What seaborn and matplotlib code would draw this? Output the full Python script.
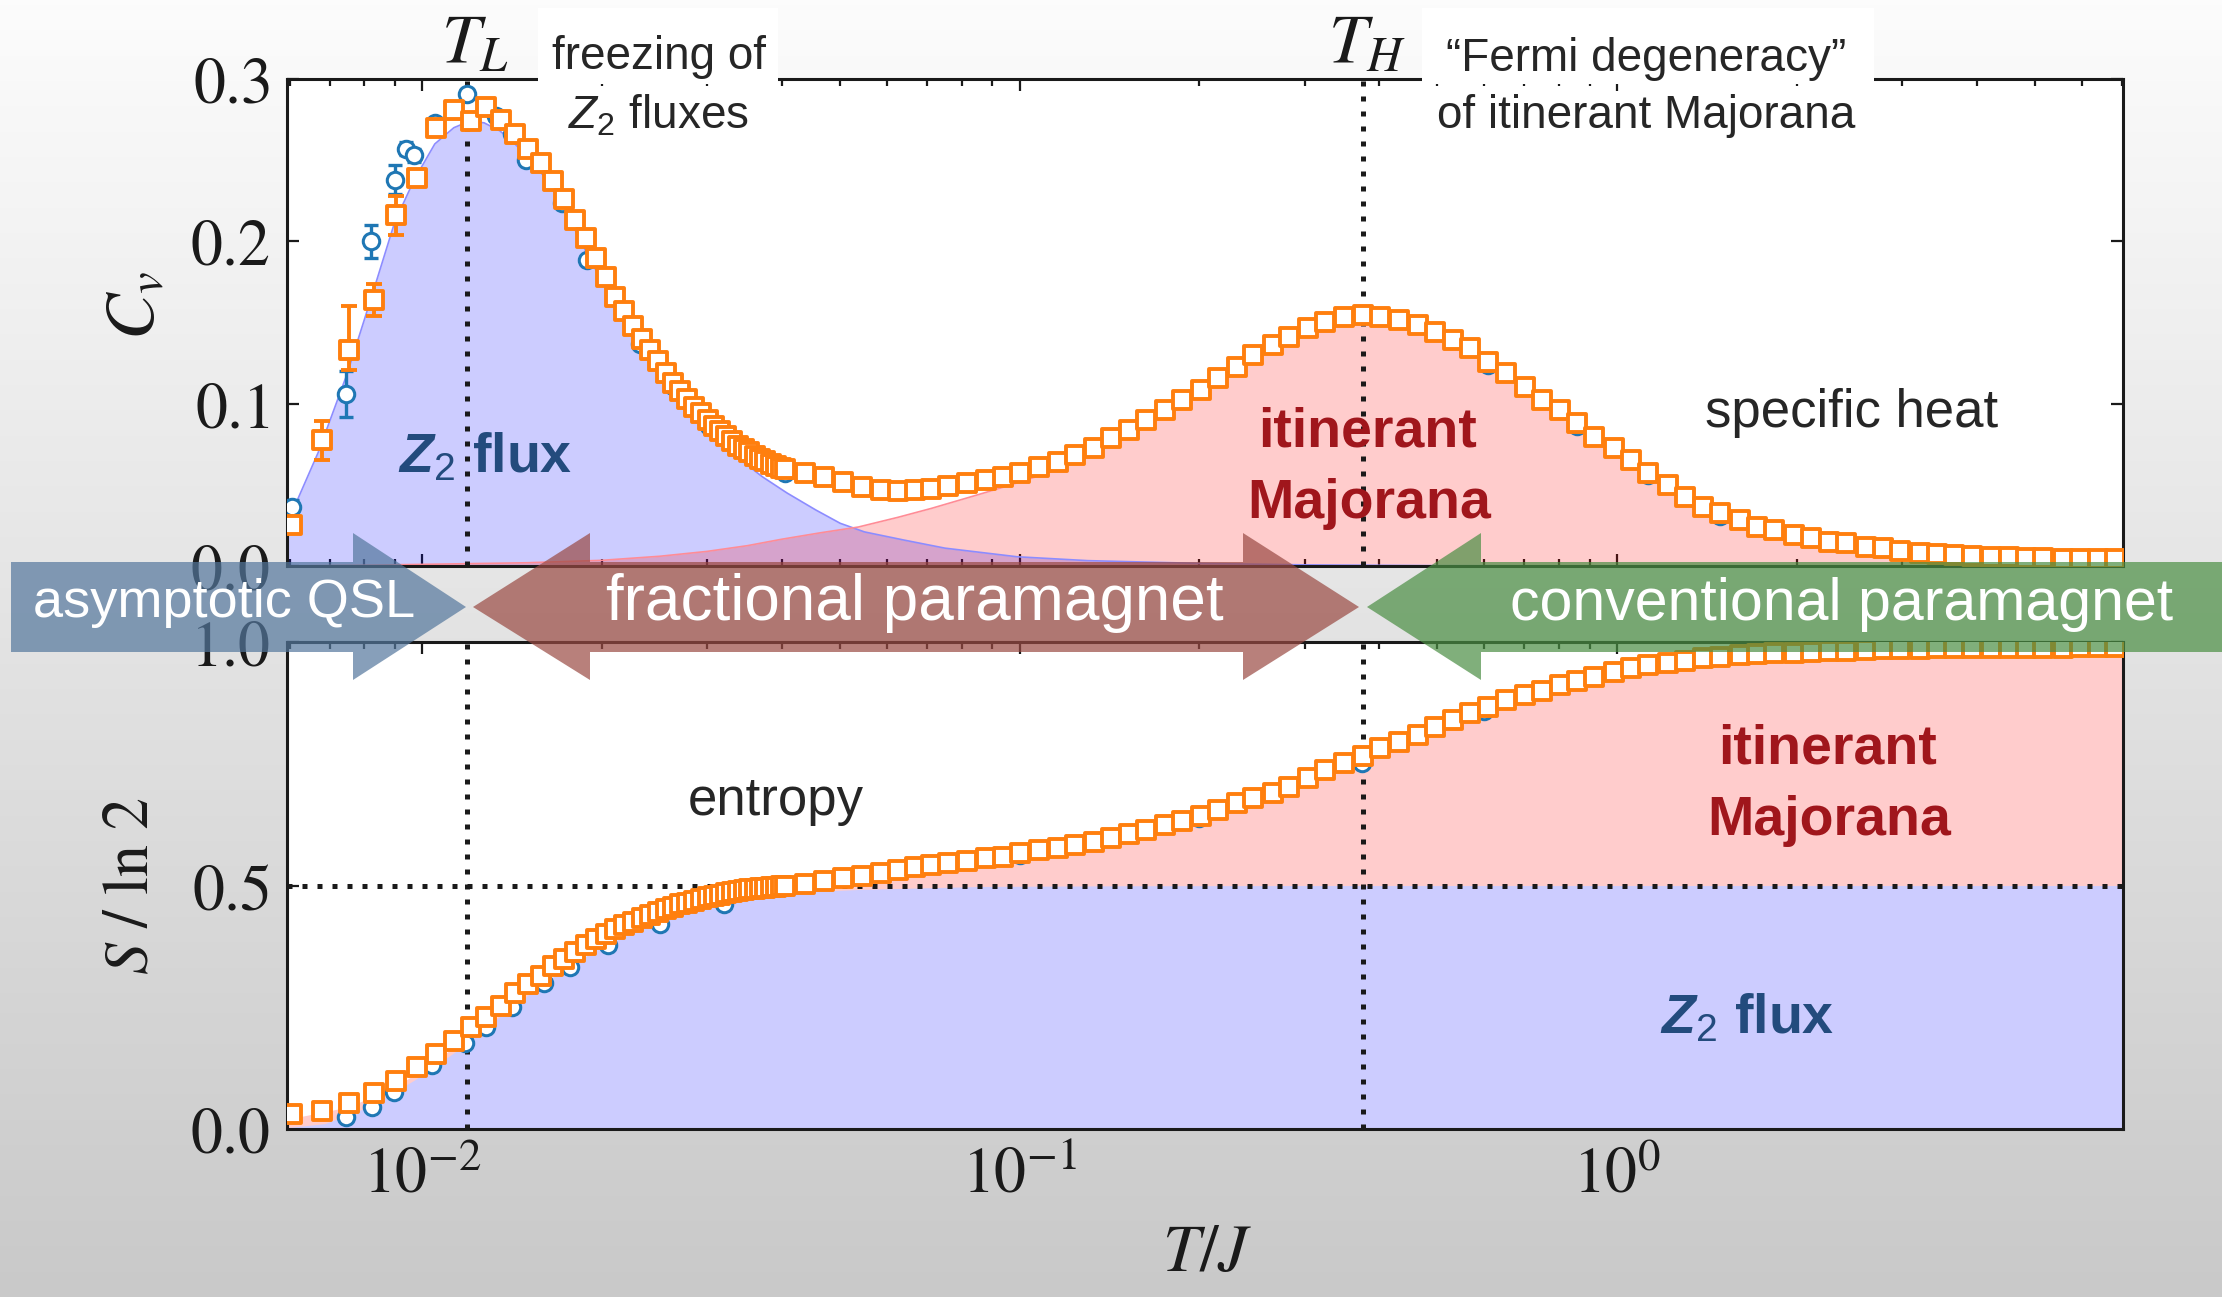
import numpy as np
import matplotlib
matplotlib.use("Agg")
import matplotlib.pyplot as plt
import seaborn as sns
from matplotlib.patches import Polygon, Rectangle
from matplotlib.colors import LinearSegmentedColormap
from matplotlib.ticker import FixedLocator, FuncFormatter, LogLocator, NullFormatter

# ---------------------------------------------------------------- data
# square markers: low-T grid (linear steps) and high-T grid (log steps)
T_low = [0.00605, 0.00680, 0.00755, 0.00830, 0.00905, 0.00980, 0.01055, 0.01130, 0.01205, 0.01280,
         0.01355, 0.01430, 0.01505, 0.01580, 0.01655, 0.01730, 0.01805, 0.01880, 0.01955, 0.02030,
         0.02105, 0.02180, 0.02255, 0.02330, 0.02405, 0.02480, 0.02555, 0.02630, 0.02705, 0.02780,
         0.02855, 0.02930, 0.03005, 0.03080, 0.03155, 0.03230, 0.03305, 0.03380, 0.03455, 0.03530,
         0.03605, 0.03680, 0.03755, 0.03830, 0.03905, 0.03980, 0.04055]
T_high = [0.0438, 0.0471, 0.0507, 0.0545, 0.0586, 0.0626, 0.0668, 0.0712, 0.0760, 0.0818,
          0.0880, 0.0939, 0.1002, 0.1077, 0.1159, 0.1237, 0.1330, 0.1420, 0.1527, 0.1630,
          0.1752, 0.1871, 0.2012, 0.2146, 0.2309, 0.2463, 0.2651, 0.2828, 0.3042, 0.3248,
          0.3492, 0.3757, 0.4009, 0.4311, 0.4637, 0.4950, 0.5324, 0.5683, 0.6087, 0.6509,
          0.7015, 0.7500, 0.8019, 0.8574, 0.9167, 0.9881, 1.056, 1.129, 1.218, 1.302,
          1.392, 1.488, 1.605, 1.716, 1.834, 1.978, 2.114, 2.261, 2.417, 2.606,
          2.786, 2.979, 3.211, 3.433, 3.670, 3.924, 4.229, 4.522, 4.834, 5.170,
          5.574, 5.959, 6.372, 6.811]

cv_low = [0.0253, 0.0776, 0.133, 0.164, 0.216, 0.239, 0.270, 0.281, 0.274, 0.283,
          0.275, 0.266, 0.257, 0.248, 0.237, 0.226, 0.213, 0.202, 0.190, 0.178,
          0.166, 0.157, 0.148, 0.140, 0.133, 0.126, 0.119, 0.113, 0.108, 0.103,
          0.098, 0.094, 0.090, 0.086, 0.083, 0.080, 0.077, 0.074, 0.072, 0.070,
          0.068, 0.066, 0.0645, 0.063, 0.0618, 0.0606, 0.0595]
cv_high = [0.0572, 0.0550, 0.0519, 0.0489, 0.0470, 0.0464, 0.0466, 0.0476, 0.0490, 0.0509,
           0.0530, 0.0550, 0.0571, 0.0612, 0.0643, 0.0684, 0.0725, 0.0786, 0.0838, 0.0899,
           0.0961, 0.1023, 0.1084, 0.1156, 0.1228, 0.1300, 0.1361, 0.1413, 0.1464, 0.1505,
           0.1536, 0.1546, 0.1536, 0.1515, 0.1485, 0.1443, 0.1392, 0.1345, 0.1259, 0.1187,
           0.1105, 0.1023, 0.0961, 0.0879, 0.0797, 0.0725, 0.0653, 0.0571, 0.0499, 0.0427,
           0.0366, 0.0324, 0.0283, 0.0242, 0.0222, 0.0191, 0.0170, 0.0150, 0.0140, 0.0119,
           0.0109, 0.0094, 0.0082, 0.0074, 0.0068, 0.0062, 0.0057, 0.0053, 0.0049, 0.0047,
           0.0045, 0.0043, 0.0041, 0.0041]

s_low = [0.031, 0.037, 0.053, 0.074, 0.098, 0.127, 0.153, 0.181, 0.209, 0.230,
         0.252, 0.279, 0.297, 0.315, 0.334, 0.350, 0.364, 0.378, 0.391, 0.401,
         0.410, 0.419, 0.426, 0.433, 0.439, 0.445, 0.451, 0.456, 0.461, 0.465,
         0.469, 0.473, 0.477, 0.479, 0.481, 0.484, 0.486, 0.488, 0.491, 0.492,
         0.493, 0.494, 0.495, 0.496, 0.497, 0.498, 0.499]
s_high = [0.504, 0.510, 0.515, 0.520, 0.526, 0.531, 0.537, 0.542, 0.547, 0.551,
          0.556, 0.559, 0.567, 0.573, 0.576, 0.583, 0.589, 0.597, 0.606, 0.614,
          0.624, 0.633, 0.643, 0.655, 0.669, 0.679, 0.689, 0.703, 0.720, 0.737,
          0.752, 0.766, 0.782, 0.795, 0.809, 0.826, 0.840, 0.854, 0.866, 0.881,
          0.891, 0.899, 0.912, 0.919, 0.929, 0.939, 0.946, 0.953, 0.956, 0.962,
          0.967, 0.970, 0.973, 0.975, 0.977, 0.978, 0.979, 0.981, 0.982, 0.984,
          0.985, 0.986, 0.986, 0.987, 0.987, 0.988, 0.988, 0.988, 0.988, 0.988,
          0.988, 0.989, 0.989, 0.989]

# error bars of the lowest square points (lower, upper)
sq_err_lo = [0.012, 0.012, 0.010, 0.012]
sq_err_hi = [0.012, 0.027, 0.010, 0.012]

# circle markers (second data set)
T_circ = [0.00605, 0.00746, 0.00822, 0.0090, 0.0094, 0.0097, 0.0105, 0.0119, 0.0133, 0.01415,
          0.01495, 0.01716, 0.0189, 0.02316, 0.0263, 0.0302, 0.0405, 0.6087, 0.8574, 1.129,
          1.488, 2.114]
cv_circ = [0.0365, 0.106, 0.200, 0.238, 0.257, 0.253, 0.273, 0.291, 0.277, 0.266,
           0.250, 0.2234, 0.1885, 0.137, 0.111, 0.086, 0.057, 0.124, 0.086, 0.056,
           0.031, 0.017]
cv_circ_err = [0.004, 0.014, 0.010, 0.009, 0.004, 0.004, 0.003, 0.003, 0.002, 0.002,
               0.002, 0.002, 0.002, 0.001, 0.001, 0.001, 0.001, 0.0, 0.0, 0.0,
               0.0, 0.0]
T_circ_s = [0.00746, 0.00823, 0.00897, 0.0104, 0.0118, 0.0128, 0.01415, 0.0160, 0.0177, 0.0205,
            0.025, 0.032, 0.1, 0.2, 0.374, 0.6]
s_circ = [0.025, 0.046, 0.077, 0.131, 0.176, 0.210, 0.250, 0.299, 0.333, 0.378,
          0.420, 0.462, 0.562, 0.638, 0.752, 0.858]

# Z2-flux and itinerant-Majorana parts of the specific heat
T_flux = [0.00594, 0.0067, 0.0075, 0.0082, 0.0090, 0.0097, 0.0105, 0.0113, 0.0120, 0.0127,
          0.0135, 0.0143, 0.0150, 0.0160, 0.0172, 0.0189, 0.0205, 0.0229, 0.0263, 0.0302,
          0.0337, 0.0371, 0.0408, 0.0456, 0.0501, 0.055, 0.064, 0.075, 0.099, 0.13,
          0.2, 0.3, 0.5, 1.0, 7.03]
cv_flux = [0.026, 0.070, 0.119, 0.164, 0.212, 0.238, 0.260, 0.270, 0.274, 0.273,
           0.268, 0.260, 0.252, 0.240, 0.222, 0.192, 0.168, 0.139, 0.109, 0.084,
           0.067, 0.055, 0.045, 0.0345, 0.0263, 0.021, 0.016, 0.011, 0.0057, 0.0033,
           0.0016, 0.0007, 0.0002, 0.0, 0.0]
T_maj = [0.00594, 0.008, 0.010, 0.015, 0.020, 0.025, 0.030, 0.035, 0.040, 0.0465,
         0.0537, 0.0626, 0.0712, 0.0818, 0.0939, 0.1077, 0.1237, 0.142, 0.163, 0.1871,
         0.2146, 0.2463, 0.2828, 0.3248, 0.3757, 0.4311, 0.4950, 0.5683, 0.6509, 0.75,
         0.8574, 0.9881, 1.129, 1.302, 1.488, 1.716, 1.978, 2.261, 2.606, 2.979,
         3.433, 3.924, 4.522, 5.170, 5.959, 7.03]
cv_maj = [0.0, 0.0005, 0.001, 0.002, 0.0035, 0.006, 0.009, 0.0125, 0.0165, 0.0205,
          0.024, 0.030, 0.0355, 0.042, 0.0485, 0.0555, 0.0635, 0.0745, 0.086, 0.0985,
          0.1125, 0.1275, 0.1395, 0.1495, 0.1543, 0.1515, 0.1443, 0.1345, 0.1187, 0.1023,
          0.0879, 0.0725, 0.0571, 0.0427, 0.0324, 0.0242, 0.0191, 0.0150, 0.0119, 0.0094,
          0.0074, 0.0062, 0.0053, 0.0047, 0.0043, 0.0040]

# entropy: Z2-flux part and total
T_sflux = [0.00594, 0.00687, 0.00816, 0.00969, 0.01192, 0.01368, 0.01625, 0.01929, 0.02291, 0.02721,
           0.03232, 0.03839, 0.0456, 0.0542, 0.0859, 0.15, 0.3, 7.03]
s_flux = [0.003, 0.011, 0.046, 0.100, 0.176, 0.237, 0.306, 0.364, 0.409, 0.440,
          0.463, 0.477, 0.488, 0.492, 0.498, 0.4995, 0.5, 0.5]
T_stot = [0.00594, 0.0075, 0.009, 0.0105, 0.012, 0.0135, 0.015, 0.0175, 0.02, 0.0235,
          0.0275, 0.032, 0.038, 0.045, 0.055, 0.07, 0.09, 0.12, 0.16, 0.21,
          0.27, 0.33, 0.375, 0.43, 0.5, 0.6, 0.75, 0.9, 1.1, 1.4,
          1.8, 2.4, 3.2, 4.5, 7.03]
s_tot = [0.020, 0.045, 0.085, 0.140, 0.190, 0.235, 0.280, 0.330, 0.370, 0.410,
         0.443, 0.466, 0.482, 0.495, 0.512, 0.533, 0.550, 0.572, 0.610, 0.645,
         0.685, 0.732, 0.757, 0.787, 0.820, 0.858, 0.896, 0.922, 0.945, 0.962,
         0.974, 0.980, 0.985, 0.987, 0.988]

T_L, T_H = 0.0119, 0.375
S_half = 0.5
x_ticks = [0.01, 0.1, 1.0]
cv_ticks = [0.0, 0.1, 0.2, 0.3]
s_ticks = [0.0, 0.5, 1.0]

T_sq = T_low + T_high
cv_sq = cv_low + cv_high
s_sq = s_low + s_high

# ---------------------------------------------------------------- style
sns.set_theme(style="ticks")
plt.rcParams["font.family"] = ["Liberation Sans", "DejaVu Sans"]
plt.rcParams["mathtext.fontset"] = "stix"
plt.rcParams["mathtext.rm"] = "Liberation Sans"
plt.rcParams["mathtext.it"] = "Liberation Sans:italic"
plt.rcParams["mathtext.bf"] = "Liberation Sans:bold"
plt.rcParams["mathtext.bfit"] = "Liberation Sans:italic:bold"

ORANGE = "#ff7f0e"
BLUE = "#1f77b4"
FLUX_TXT = "#234b7d"
MAJ_TXT = "#a0161c"
INK = "#1a1a1a"

W, H = 2222, 1297


def px(x, y):
    """pixel position (from the top-left corner) -> figure fraction"""
    return (x / W, 1 - y / H)


fig = plt.figure(figsize=(W / 100, H / 100), dpi=100)

# soft vertical grey gradient behind everything
bg = fig.add_axes([0, 0, 1, 1], zorder=-10)
bg.imshow(np.linspace(0, 1, 256)[:, None], aspect="auto", extent=[0, 1, 0, 1],
          cmap=LinearSegmentedColormap.from_list("bg", ["#fcfcfc", "#c9c9c9"]))
bg.set_axis_off()

ax1 = fig.add_axes([287 / W, 1 - 566 / H, 1836 / W, 487 / H])
ax2 = fig.add_axes([287 / W, 1 - 1129 / H, 1836 / W, 487 / H])

dots = (0, (1.0, 2.0))
DOT_LW = 3.6
SQ_S, SQ_LW = 165, 2.8
CI_S, CI_LW = 140, 2.2

# ---------------------------------------------------------------- specific heat
ax1.fill_between(T_flux, 0, cv_flux, color=(0, 0, 1, 0.2), lw=0, zorder=1)
ax1.fill_between(T_maj, 0, cv_maj, color=(1, 0, 0, 0.2), lw=0, zorder=1.1)
sns.lineplot(x=T_flux, y=cv_flux, ax=ax1, color="#8c8cff", lw=1.2, sort=False,
             estimator=None, zorder=1.2)
sns.lineplot(x=T_maj, y=cv_maj, ax=ax1, color="#ff8c96", lw=1.2, sort=False,
             estimator=None, zorder=1.2)
ax1.axvline(T_L, color="k", lw=DOT_LW, ls=dots, zorder=2)
ax1.axvline(T_H, color="k", lw=DOT_LW, ls=dots, zorder=2)

ax1.errorbar(T_circ, cv_circ, yerr=cv_circ_err, fmt="none", ecolor=BLUE,
             elinewidth=2.4, capsize=5, capthick=2.4, zorder=3)
sns.scatterplot(x=T_circ, y=cv_circ, ax=ax1, marker="o", s=CI_S, color="white",
                edgecolor=BLUE, linewidth=CI_LW, zorder=3.1, legend=False)
ax1.errorbar(T_sq[1:5], cv_sq[1:5], yerr=[sq_err_lo, sq_err_hi], fmt="none",
             ecolor=ORANGE, elinewidth=2.8, capsize=6, capthick=2.8, zorder=4)
sns.scatterplot(x=T_sq, y=cv_sq, ax=ax1, marker="s", s=SQ_S, color="white",
                edgecolor=ORANGE, linewidth=SQ_LW, zorder=5, legend=False)

# ---------------------------------------------------------------- entropy
ax2.fill_between(T_stot, 0, s_tot, color="#ffcccc", lw=0, zorder=1)
ax2.fill_between(T_sflux, 0, s_flux, color="#ccccff", lw=0, zorder=1.1)
ax2.axvline(T_L, color="k", lw=DOT_LW, ls=dots, zorder=2)
ax2.axvline(T_H, color="k", lw=DOT_LW, ls=dots, zorder=2)
ax2.axhline(S_half, color="k", lw=DOT_LW, ls=dots, zorder=2)
sns.scatterplot(x=T_circ_s, y=s_circ, ax=ax2, marker="o", s=CI_S, color="white",
                edgecolor=BLUE, linewidth=CI_LW, zorder=3, legend=False)
sns.scatterplot(x=T_sq, y=s_sq, ax=ax2, marker="s", s=SQ_S, color="white",
                edgecolor=ORANGE, linewidth=SQ_LW, zorder=5, legend=False)

# ---------------------------------------------------------------- axes
for ax in (ax1, ax2):
    ax.set_xscale("log")
    ax.set_xlim(0.00594, 7.03)
    ax.set_facecolor("white")
    ax.xaxis.set_major_locator(FixedLocator(x_ticks))
    ax.xaxis.set_minor_locator(LogLocator(base=10, subs=np.arange(2, 10) * 1.0, numticks=30))
    ax.xaxis.set_minor_formatter(NullFormatter())
    ax.tick_params(which="both", direction="in", top=True, right=True, color=INK, width=1.6)
    ax.tick_params(which="major", length=8.5, labelsize=46, pad=12, labelcolor=INK)
    ax.tick_params(which="minor", length=5)
    ax.yaxis.set_major_formatter(FuncFormatter(lambda v, p: r"$%.1f$" % v))
    ax.set_xlabel("")
    ax.set_ylabel("")
    for sp in ax.spines.values():
        sp.set_linewidth(2.2)
        sp.set_color(INK)
        sp.set_visible(True)

ax1.set_ylim(0, 0.3)
ax1.yaxis.set_major_locator(FixedLocator(cv_ticks))
ax1.tick_params(labelbottom=False)
ax2.set_ylim(0, 1.0)
ax2.yaxis.set_major_locator(FixedLocator(s_ticks))
ax2.xaxis.set_major_formatter(FuncFormatter(lambda v, p: r"$10^{%d}$" % int(round(np.log10(v)))))

# axis labels
fig.text(*px(135, 305), r"$C_v$", rotation=90, ha="center", va="center", fontsize=50, color=INK)
fig.text(*px(131, 886), r"$S\ /\ \ln\,2$", rotation=90, ha="center", va="center",
         fontsize=46, color=INK)
fig.text(*px(1207, 1254), r"$T/J$", ha="center", va="center", fontsize=48, color=INK)

# ---------------------------------------------------------------- header notes
for x0, x1 in ((538, 778), (1422, 1874)):
    fig.add_artist(Rectangle(px(x0, 84), (x1 - x0) / W, 76 / H, transform=fig.transFigure,
                             facecolor="white", edgecolor="none", zorder=8))
fig.text(*px(441, 63), r"$T_L$", ha="left", va="baseline", fontsize=50, color=INK, zorder=9)
fig.text(*px(1328, 63), r"$T_H$", ha="left", va="baseline", fontsize=50, color=INK, zorder=9)
fig.text(*px(659, 69), "freezing of", ha="center", va="baseline", fontsize=33, zorder=9)
fig.text(*px(658, 128), r"$\mathit{Z}_{\mathrm{2}}$ fluxes", ha="center", va="baseline",
         fontsize=33, zorder=9, math_fontfamily="custom")
fig.text(*px(1646, 71), "\u201cFermi degeneracy\u201d", ha="center", va="baseline",
         fontsize=33, zorder=9)
fig.text(*px(1646, 128), "of itinerant Majorana", ha="center", va="baseline",
         fontsize=33, zorder=9)

# ---------------------------------------------------------------- region labels
bold = dict(ha="center", va="baseline", fontsize=40, fontweight="bold", zorder=9)
fig.text(*px(485, 472), r"$\mathbfit{Z}_{\mathrm{2}}$ flux", color=FLUX_TXT,
         math_fontfamily="custom", **bold)
fig.text(*px(1367, 447), "itinerant", color=MAJ_TXT, **bold)
fig.text(*px(1369, 518), "Majorana", color=MAJ_TXT, **bold)
fig.text(*px(1852, 427), "specific heat", ha="center", va="baseline", fontsize=38, zorder=9)
fig.text(*px(776, 815), "entropy", ha="center", va="baseline", fontsize=38, zorder=9)
fig.text(*px(1828, 763), "itinerant", color=MAJ_TXT, **bold)
fig.text(*px(1829, 835), "Majorana", color=MAJ_TXT, **bold)
fig.text(*px(1747, 1033), r"$\mathbfit{Z}_{\mathrm{2}}$ flux", color=FLUX_TXT,
         math_fontfamily="custom", **bold)

# ---------------------------------------------------------------- regime arrows
arrows = [
    ("#54779d", [(11, 562), (353, 562), (353, 533), (466, 607), (353, 680), (353, 652), (11, 652)]),
    ("#9a4a43", [(473, 607), (590, 533), (590, 562), (1243, 562), (1243, 533), (1359, 607),
                 (1243, 680), (1243, 652), (590, 652), (590, 680)]),
    ("#4a8e43", [(1367, 607), (1481, 533), (1481, 562), (2222, 562), (2222, 652), (1481, 652),
                 (1481, 680)]),
]
for col, pts in arrows:
    fig.add_artist(Polygon(np.array([px(*p) for p in pts]), closed=True,
                           transform=fig.transFigure, facecolor=col, edgecolor="none",
                           alpha=0.7, zorder=20))
fig.text(*px(224, 617), "asymptotic QSL", color="white", ha="center", va="baseline",
         fontsize=39, zorder=21)
fig.text(*px(915, 620), "fractional paramagnet", color="white", ha="center", va="baseline",
         fontsize=46, zorder=21)
fig.text(*px(1842, 620), "conventional paramagnet", color="white", ha="center", va="baseline",
         fontsize=42.5, zorder=21)

fig.savefig("out.png", dpi=100)
